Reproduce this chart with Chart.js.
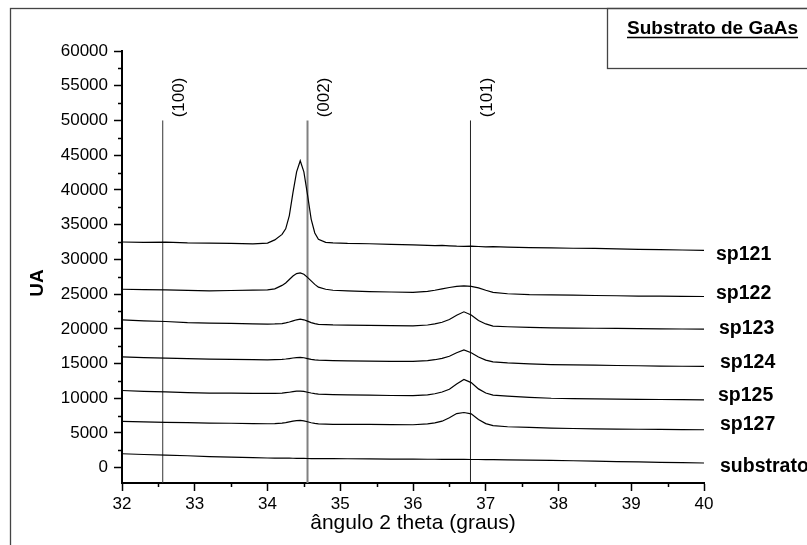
<!DOCTYPE html>
<html>
<head>
<meta charset="utf-8">
<script src="https://cdn.jsdelivr.net/npm/chart.js@4.4.1/dist/chart.umd.min.js"></script>
<style>
  body { margin: 0; background: #fff; }
  #wrap { width: 807px; height: 545px; }
</style>
</head>
<body>
<div id="wrap"><canvas id="xrdChart" width="807" height="545"></canvas></div>
<script>
// 2 theta sample positions (denser around the peaks)
const angles = [32.0, 32.3, 32.6, 32.9, 33.2, 33.5, 33.8, 34.0, 34.1, 34.2, 34.25, 34.3, 34.35, 34.4, 34.45, 34.5,
  34.55, 34.6, 34.65, 34.7, 34.8, 34.9, 35.1, 35.4, 35.7, 36.0, 36.2, 36.3, 36.4, 36.5, 36.6, 36.7, 36.8, 36.9,
  37.0, 37.1, 37.3, 37.6, 37.9, 38.2, 38.5, 38.8, 39.1, 39.4, 39.7, 40.0];

const sp121 = [32500, 32450, 32480, 32380, 32350, 32300, 32220, 32350, 32800, 33600, 34400, 36300, 39600, 42600, 44200, 42600,
  39300, 35800, 33800, 32900, 32450, 32380, 32300, 32250, 32150, 32080, 32000, 31980, 32000, 31950, 31900, 31880, 31900, 31850,
  31800, 31820, 31750, 31700, 31650, 31600, 31580, 31500, 31450, 31400, 31350, 31300];
const sp122 = [25700, 25650, 25620, 25540, 25470, 25520, 25560, 25600, 25750, 26250, 26600, 27100, 27600, 27950, 28050, 27850,
  27400, 26900, 26400, 26000, 25700, 25550, 25450, 25350, 25300, 25250, 25400, 25550, 25750, 25950, 26100, 26180, 26120, 25900,
  25550, 25250, 25050, 24920, 24880, 24850, 24800, 24760, 24720, 24700, 24680, 24650];
const sp123 = [21300, 21150, 21050, 20900, 20820, 20780, 20700, 20680, 20700, 20750, 20850, 20980, 21150, 21300, 21380, 21300,
  21100, 20900, 20750, 20650, 20600, 20560, 20530, 20500, 20460, 20430, 20550, 20700, 20950, 21350, 21950, 22450, 22000, 21200,
  20700, 20400, 20300, 20200, 20130, 20100, 20080, 20050, 20020, 19990, 19970, 19950];
const sp124 = [15970, 15850, 15780, 15700, 15640, 15600, 15560, 15540, 15560, 15600, 15650, 15720, 15800, 15860, 15880, 15830,
  15720, 15600, 15520, 15480, 15450, 15420, 15380, 15350, 15320, 15300, 15420, 15550, 15750, 16050, 16550, 16950, 16550, 15950,
  15500, 15250, 15100, 14950, 14850, 14800, 14760, 14720, 14680, 14640, 14610, 14580];
const sp125 = [11120, 11000, 10920, 10820, 10750, 10730, 10700, 10690, 10700, 10740, 10800, 10870, 10950, 11020, 11040, 10980,
  10870, 10760, 10670, 10600, 10550, 10520, 10480, 10440, 10400, 10380, 10500, 10650, 10900, 11300, 12050, 12700, 12250, 11350,
  10750, 10450, 10300, 10120, 10000, 9950, 9910, 9870, 9840, 9820, 9800, 9780];
const sp127 = [6660, 6600, 6540, 6480, 6430, 6400, 6350, 6330, 6360, 6420, 6500, 6600, 6700, 6780, 6810, 6750,
  6620, 6480, 6380, 6310, 6270, 6250, 6240, 6230, 6210, 6190, 6300, 6450, 6700, 7200, 7800, 7950, 7750, 6950,
  6350, 6050, 5900, 5800, 5700, 5650, 5600, 5570, 5540, 5510, 5490, 5470];
const substrato = [2010, 1900, 1800, 1720, 1600, 1530, 1450, 1400, 1390, 1380, 1370, 1370, 1360, 1350, 1350, 1340,
  1330, 1320, 1320, 1310, 1300, 1300, 1290, 1270, 1250, 1230, 1220, 1220, 1210, 1200, 1200, 1190, 1180, 1180,
  1170, 1160, 1140, 1100, 1050, 1000, 940, 880, 830, 770, 720, 680];

const seriesNames = ["sp121", "sp122", "sp123", "sp124", "sp125", "sp127", "substrato"];
const seriesValues = [sp121, sp122, sp123, sp124, sp125, sp127, substrato];

// reflection markers
const peakPositions = [32.56, 34.55, 36.79];
const peakNames = ["(100)", "(002)", "(101)"];
const peakTop = 50000;

const xTicks = [32, 33, 34, 35, 36, 37, 38, 39, 40];
const xMinorTicks = [32.5, 33.5, 34.5, 35.5, 36.5, 37.5, 38.5, 39.5];
const yTicks = [0, 5000, 10000, 15000, 20000, 25000, 30000, 35000, 40000, 45000, 50000, 55000, 60000];
const yMinorTicks = [2500, 7500, 12500, 17500, 22500, 27500, 32500, 37500, 42500, 47500, 52500, 57500];
const yMin = -2200;
const yMax = 60000;
const legendTitle = "Substrato de GaAs";
const yTitle = "UA";

// styles (kept apart from the data)
const peakLineColors = ["#333", "#808080", "#222"];
const peakLineWidths = [1, 2, 1];
const labelOffsets = [[12, 4], [12, -3], [15, -1], [16, -4], [14, -4], [16, -5], [16, 4]];
const FONT = "'Liberation Sans', Arial, sans-serif";

Chart.defaults.font.family = FONT;
Chart.defaults.color = "#000";

const datasets = seriesValues.map((vals, i) => ({
  label: seriesNames[i],
  data: angles.map((a, j) => ({ x: a, y: vals[j] })),
  borderColor: "#000",
  borderWidth: 1.2,
  pointRadius: 0,
  showLine: true,
  tension: 0
}));

peakPositions.forEach((p, i) => {
  datasets.push({
    label: peakNames[i],
    data: [{ x: p, y: yMin }, { x: p, y: peakTop }],
    borderColor: peakLineColors[i],
    borderWidth: peakLineWidths[i],
    pointRadius: 0,
    showLine: true
  });
});

const decorations = {
  id: "decorations",
  beforeDraw(chart) {
    const ctx = chart.ctx;
    ctx.save();
    ctx.fillStyle = "#fff";
    ctx.fillRect(0, 0, chart.width, chart.height);
    ctx.restore();
  },
  afterDraw(chart) {
    const ctx = chart.ctx;
    const xs = chart.scales.x, ys = chart.scales.y;
    ctx.save();

    // outer frame (cut off at right and bottom)
    ctx.strokeStyle = "#444";
    ctx.lineWidth = 1.3;
    ctx.strokeRect(10.5, 8.5, 1000, 1000);
    // legend box
    ctx.strokeRect(607.5, 8.5, 400, 60);
    ctx.font = "bold 19px " + FONT;
    ctx.fillStyle = "#000";
    ctx.textBaseline = "alphabetic";
    ctx.textAlign = "left";
    ctx.fillText(legendTitle, 627, 34);
    const w = ctx.measureText(legendTitle).width;
    ctx.strokeStyle = "#000";
    ctx.lineWidth = 1.6;
    ctx.beginPath();
    ctx.moveTo(627, 37.5);
    ctx.lineTo(627 + w, 37.5);
    ctx.stroke();

    // minor ticks
    ctx.lineWidth = 1.5;
    ctx.beginPath();
    yMinorTicks.forEach(v => {
      const py = Math.round(ys.getPixelForValue(v)) + 0.5;
      ctx.moveTo(xs.left - 4, py);
      ctx.lineTo(xs.left, py);
    });
    xMinorTicks.forEach(v => {
      const px = Math.round(xs.getPixelForValue(v)) + 0.5;
      ctx.moveTo(px, ys.bottom);
      ctx.lineTo(px, ys.bottom + 4);
    });
    ctx.stroke();

    // y axis title
    ctx.font = "bold 19px " + FONT;
    ctx.textAlign = "center";
    ctx.textBaseline = "middle";
    ctx.save();
    ctx.translate(38, 283);
    ctx.rotate(-Math.PI / 2);
    ctx.fillText(yTitle, 0, 0);
    ctx.restore();

    // reflection labels
    ctx.font = "17px " + FONT;
    peakPositions.forEach((p, i) => {
      ctx.save();
      ctx.translate(xs.getPixelForValue(p) + 17, ys.getPixelForValue(peakTop) - 23);
      ctx.rotate(-Math.PI / 2);
      ctx.fillText(peakNames[i], 0, 0);
      ctx.restore();
    });

    // series names at the right end
    ctx.font = "bold 19.5px " + FONT;
    ctx.textAlign = "left";
    seriesValues.forEach((vals, i) => {
      const px = xs.getPixelForValue(angles[angles.length - 1]) + labelOffsets[i][0];
      const py = ys.getPixelForValue(vals[vals.length - 1]) + labelOffsets[i][1];
      ctx.fillText(seriesNames[i], px, py);
    });
    ctx.restore();
  }
};

new Chart(document.getElementById("xrdChart"), {
  type: "scatter",
  data: { datasets },
  options: {
    responsive: false,
    animation: false,
    layout: { padding: { left: 0, right: 103, top: 51, bottom: 0 } },
    plugins: { legend: { display: false }, tooltip: { enabled: false } },
    scales: {
      x: {
        type: "linear",
        min: 32,
        max: 40,
        afterBuildTicks: s => { s.ticks = xTicks.map(v => ({ value: v })); },
        afterFit: s => { s.height = 62; },
        grid: { drawOnChartArea: false, tickLength: 8, tickColor: "#000", tickWidth: 1.5 },
        border: { color: "#000", width: 2 },
        ticks: { font: { size: 17 }, padding: 3, maxRotation: 0, autoSkip: false, callback: v => String(v) },
        title: { display: true, text: "ângulo 2 theta (graus)", font: { size: 21 }, padding: { top: 0, bottom: 9 } }
      },
      y: {
        type: "linear",
        min: yMin,
        max: yMax,
        afterBuildTicks: s => { s.ticks = yTicks.map(v => ({ value: v })); },
        afterFit: s => { s.width = 122; },
        grid: { drawOnChartArea: false, tickLength: 8, tickColor: "#000", tickWidth: 1.5 },
        border: { color: "#000", width: 2 },
        ticks: { font: { size: 17 }, padding: 6, callback: v => String(v) }
      }
    }
  },
  plugins: [decorations]
});
</script>
</body>
</html>
